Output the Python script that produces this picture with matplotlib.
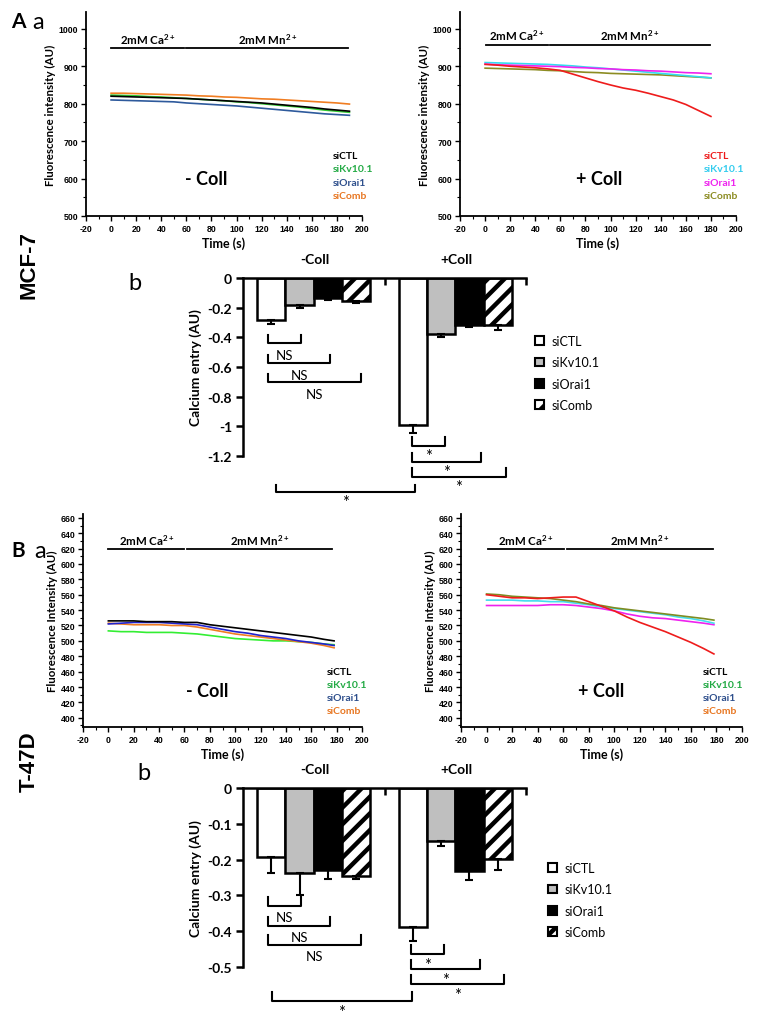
import matplotlib
matplotlib.use("Agg")
import matplotlib.pyplot as plt
from matplotlib.patches import Patch
from matplotlib.ticker import MultipleLocator

plt.rcParams['font.family'] = ['Lato', 'DejaVu Sans']
plt.rcParams['mathtext.fontset'] = 'custom'
plt.rcParams['mathtext.rm'] = 'Lato'
plt.rcParams['mathtext.bf'] = 'Lato:bold'
plt.rcParams['mathtext.it'] = 'Lato:italic'
plt.rcParams['axes.unicode_minus'] = False
plt.rcParams['hatch.linewidth'] = 3.2

# ---- data: fluorescence traces ----
names = ['siCTL', 'siKv10.1', 'siOrai1', 'siComb']

t_mcf_minus = [0, 10, 20, 30, 40, 50, 60, 70, 80, 90, 100, 110, 120, 130, 140, 150, 160, 170, 180, 190]
mcf_minus_ctl = [820, 819, 818, 817, 816, 815, 814, 812, 810, 808, 806, 804, 802, 799, 796, 793, 790, 786, 783, 780]
mcf_minus_kv = [823, 822, 821, 819, 818, 816, 814, 812, 810, 808, 805, 803, 800, 797, 794, 791, 787, 783, 780, 777]
mcf_minus_orai = [810, 809, 808, 807, 806, 805, 802, 800, 798, 796, 794, 791, 788, 785, 782, 779, 776, 773, 771, 769]
mcf_minus_comb = [828, 828, 827, 826, 825, 824, 823, 821, 820, 818, 817, 815, 813, 812, 810, 808, 806, 804, 802, 799]

t_mcf_plus = [0, 10, 20, 30, 40, 50, 60, 70, 80, 90, 100, 110, 120, 130, 140, 150, 160, 170, 180]
mcf_plus_ctl = [905, 903, 900, 898, 896, 893, 889, 879, 869, 859, 850, 842, 836, 828, 819, 810, 798, 782, 766]
mcf_plus_kv = [910, 909, 908, 907, 906, 905, 903, 901, 898, 896, 893, 890, 887, 884, 881, 878, 875, 872, 869]
mcf_plus_orai = [906, 904, 903, 902, 901, 900, 899, 897, 896, 894, 893, 891, 890, 888, 887, 885, 883, 882, 880]
mcf_plus_comb = [895, 894, 893, 892, 891, 889, 888, 886, 884, 883, 881, 880, 879, 878, 877, 875, 873, 871, 869]

t_t47 = [0, 10, 20, 30, 40, 50, 60, 70, 80, 90, 100, 110, 120, 130, 140, 150, 160, 170, 178]
t47_minus_ctl = [526, 526, 526, 525, 525, 525, 524, 524, 521, 519, 517, 515, 513, 511, 509, 507, 505, 502, 500]
t47_minus_kv = [513, 512, 512, 511, 511, 511, 510, 509, 507, 505, 503, 502, 501, 500, 500, 499, 498, 496, 495]
t47_minus_orai = [522, 523, 524, 524, 524, 523, 522, 521, 518, 515, 512, 510, 507, 505, 503, 500, 498, 496, 494]
t47_minus_comb = [523, 522, 521, 521, 521, 520, 520, 518, 515, 512, 509, 507, 505, 503, 501, 499, 497, 494, 491]

t47_plus_ctl = [560, 558, 556, 556, 555, 556, 557, 557, 551, 545, 539, 531, 524, 518, 512, 505, 498, 490, 483]
t47_plus_kv = [553, 553, 553, 552, 552, 551, 551, 549, 547, 544, 542, 540, 538, 536, 534, 531, 529, 526, 523]
t47_plus_orai = [546, 546, 546, 546, 546, 547, 547, 546, 544, 542, 539, 535, 532, 530, 529, 527, 525, 523, 521]
t47_plus_comb = [561, 560, 558, 557, 556, 555, 553, 551, 548, 546, 543, 541, 539, 537, 535, 533, 531, 529, 527]

# ---- data: calcium entry bars ----
mcf_minus_bar = [-0.285, -0.179, -0.137, -0.157]
mcf_minus_err = [0.025, 0.021, 0.013, 0.013]
mcf_plus_bar = [-0.989, -0.375, -0.315, -0.315]
mcf_plus_err = [0.056, 0.025, 0.015, 0.035]

t47_minus_bar = [-0.192, -0.238, -0.228, -0.246]
t47_minus_err = [0.046, 0.062, 0.027, 0.009]
t47_plus_bar = [-0.387, -0.149, -0.231, -0.197]
t47_plus_err = [0.040, 0.012, 0.025, 0.031]

W, H = 761, 1020
fig = plt.figure(figsize=(W / 100, H / 100), dpi=100)


def px_rect(x0, y0, x1, y1):
    return [x0 / W, 1 - y1 / H, (x1 - x0) / W, (y1 - y0) / H]


def line_panel(rect, t, series, colors, ylim, ymajor, yminor, ylabel,
               spans, span_y, leg_x, leg_ys, leg_colors, cond, cond_xy):
    ax = fig.add_axes(rect)
    for ys, c in zip(series, colors):
        ax.plot(t, ys, color=c, lw=1.2)
    ax.set_xlim(-20, 200)
    ax.set_ylim(*ylim)
    ax.xaxis.set_major_locator(MultipleLocator(20))
    ax.xaxis.set_minor_locator(MultipleLocator(10))
    ax.yaxis.set_major_locator(MultipleLocator(ymajor))
    ax.yaxis.set_minor_locator(MultipleLocator(yminor))
    ax.spines['top'].set_visible(False)
    ax.spines['right'].set_visible(False)
    for s in ('left', 'bottom'):
        ax.spines[s].set_linewidth(1.3)
    ax.tick_params(which='major', length=3.5, width=1.0, pad=2)
    ax.tick_params(which='minor', length=2, width=0.8)
    for lab in ax.get_xticklabels() + ax.get_yticklabels():
        lab.set_fontfamily('Liberation Sans')
        lab.set_fontweight('bold')
        lab.set_fontsize(6.3)
    ax.set_xlabel('Time (s)', fontsize=9, fontweight='bold', labelpad=3)
    ax.set_ylabel(ylabel, fontsize=8.3, fontweight='bold', labelpad=2)
    # solution bars
    (c0, c1), (m0, m1) = spans
    ax.plot([c0, c1], [span_y, span_y], color='k', lw=1.3)
    ax.plot([m0, m1], [span_y, span_y], color='k', lw=1.3)
    ax.annotate(r'2mM Ca$^{\mathbf{2+}}$', xy=((c0 + c1) / 2, span_y), xytext=(0, 1.5),
                textcoords='offset points', ha='center', va='bottom', fontsize=8.3, fontweight='bold')
    ax.annotate(r'2mM Mn$^{\mathbf{2+}}$', xy=((m0 + m1) / 2, span_y), xytext=(0, 1.5),
                textcoords='offset points', ha='center', va='bottom', fontsize=8.3, fontweight='bold')
    for n, y, c in zip(names, leg_ys, leg_colors):
        ax.text(leg_x, y, n, color=c, fontsize=7.5, fontweight='bold', va='center')
    ax.text(cond_xy[0], cond_xy[1], cond, fontsize=13, fontweight='bold', ha='center', va='center')
    return ax


def bracket(ax, x0, x1, y, h, label, fs, off):
    ax.plot([x0, x0, x1, x1], [y + h, y, y, y + h], color='k', lw=1.5, clip_on=False)
    ax.annotate(label, xy=((x0 + x1) / 2, y), xytext=(0, off), textcoords='offset points',
                ha='center', va='top', fontsize=fs, annotation_clip=False)


def bar_panel(rect, minus, minus_err, plus, plus_err, ylim, yticks, ylabels, leg_anchor):
    ax = fig.add_axes(rect)
    offs = [-0.3, -0.1, 0.1, 0.3]
    faces = ['white', '#bfbfbf', 'black', 'white']
    hatches = [None, None, None, '//']
    for i in range(4):
        xs = [0 + offs[i], 1 + offs[i]]
        vals = [minus[i], plus[i]]
        errs = [minus_err[i], plus_err[i]]
        ax.bar(xs, vals, width=0.2, color=faces[i], edgecolor='black', linewidth=1.8,
               hatch=hatches[i], zorder=2)
        ax.errorbar(xs, vals, yerr=[errs, [0, 0]], fmt='none', ecolor='black',
                    elinewidth=1.5, capsize=3, capthick=1.5, zorder=3)
    ax.set_xlim(-0.5, 1.5)
    ax.set_ylim(*ylim)
    ax.spines['bottom'].set_visible(False)
    ax.spines['right'].set_visible(False)
    ax.spines['top'].set_linewidth(1.8)
    ax.spines['left'].set_linewidth(1.8)
    ax.xaxis.set_ticks_position('top')
    ax.set_xticks([0.5, 1.5])
    ax.tick_params(axis='x', direction='in', length=5, width=1.8, labeltop=False, labelbottom=False)
    ax.set_yticks(yticks)
    ax.set_yticklabels(ylabels)
    ax.tick_params(axis='y', direction='out', length=5, width=1.8, labelsize=10, pad=3)
    for lab in ax.get_yticklabels():
        lab.set_fontweight('bold')
    ax.set_ylabel('Calcium entry (AU)', fontsize=10, fontweight='bold', labelpad=4)
    for xg, txt in [(0, '-Coll'), (1, '+Coll')]:
        ax.annotate(txt, xy=(xg, 1), xycoords=('data', 'axes fraction'), xytext=(1, 14),
                    textcoords='offset points', ha='center', va='center', fontsize=10,
                    fontweight='bold', annotation_clip=False)
    handles = [Patch(facecolor=faces[i], edgecolor='black', linewidth=1.5, hatch=hatches[i])
               for i in range(4)]
    ax.legend(handles, names, loc='upper left', bbox_to_anchor=leg_anchor,
              bbox_transform=fig.transFigure, frameon=False, fontsize=9,
              handlelength=0.7, handleheight=0.7, handletextpad=0.6,
              labelspacing=0.75, borderpad=0, borderaxespad=0)
    return ax


# ---- MCF-7 ----
line_panel(px_rect(86, 13, 362, 217), t_mcf_minus,
           [mcf_minus_kv, mcf_minus_orai, mcf_minus_comb, mcf_minus_ctl],
           ['#33cc33', '#2e5a9c', '#f07d22', 'black'],
           (500, 1045), 100, 50, 'Fluorescence intensity (AU)',
           ((0, 58), (60, 189)), 948, 177, [662, 626, 590, 554],
           ['black', '#22aa44', '#2e4f8c', '#e87722'], '- Coll', (76, 599))

line_panel(px_rect(460, 13, 736, 217), t_mcf_plus,
           [mcf_plus_comb, mcf_plus_kv, mcf_plus_orai, mcf_plus_ctl],
           ['#8c8c22', '#33ddee', '#ee22ee', '#ee1c1c'],
           (500, 1045), 100, 50, 'Fluorescence intensity (AU)',
           ((1, 50), (52, 179)), 958, 174, [662, 626, 590, 554],
           ['#ee1c1c', '#33ccee', '#ee22ee', '#8c8c22'], '+ Coll', (91, 599))

axA = bar_panel(px_rect(243, 279, 526, 457), mcf_minus_bar, mcf_minus_err,
                mcf_plus_bar, mcf_plus_err, (-1.2, 0),
                [0, -0.2, -0.4, -0.6, -0.8, -1.0, -1.2],
                ['0', '-0.2', '-0.4', '-0.6', '-0.8', '-1', '-1.2'],
                (535 / W, 1 - 336 / H))
for x1, y in [(-0.09, -0.438), (0.115, -0.573), (0.334, -0.701)]:
    bracket(axA, -0.32, x1, y, 0.054, 'NS', 9.5, -4)
for x1, y in [(0.928, -1.133), (1.182, -1.24), (1.359, -1.341)]:
    bracket(axA, 0.694, x1, y, 0.06, '*', 12, -1.5)
bracket(axA, -0.267, 0.716, -1.443, 0.045, '*', 12, -1.5)

# ---- T-47D ----
line_panel(px_rect(83, 515, 362, 728), t_t47,
           [t47_minus_kv, t47_minus_comb, t47_minus_orai, t47_minus_ctl],
           ['#33ee33', '#f07d22', '#2222cc', 'black'],
           (388, 665), 20, 10, 'Fluorescence Intensity (AU)',
           ((0, 60), (62, 176)), 620, 172, [460, 443, 426, 409],
           ['black', '#22aa44', '#2e4f8c', '#e87722'], '- Coll', (78, 435))

line_panel(px_rect(461, 515, 742, 728), t_t47,
           [t47_plus_orai, t47_plus_kv, t47_plus_comb, t47_plus_ctl],
           ['#ee22ee', '#44ddee', '#7f8c22', '#ee1c1c'],
           (388, 665), 20, 10, 'Fluorescence Intensity (AU)',
           ((1, 61), (63, 177)), 620, 169, [460, 443, 426, 409],
           ['black', '#22aa44', '#2e4f8c', '#e87722'], '+ Coll', (90, 435))

axB = bar_panel(px_rect(243, 789, 526, 968), t47_minus_bar, t47_minus_err,
                t47_plus_bar, t47_plus_err, (-0.5, 0),
                [0, -0.1, -0.2, -0.3, -0.4, -0.5],
                ['0', '-0.1', '-0.2', '-0.3', '-0.4', '-0.5'],
                (548 / W, 1 - 863 / H))
for x1, y in [(-0.09, -0.331), (0.115, -0.385), (0.334, -0.438)]:
    bracket(axB, -0.32, x1, y, 0.026, 'NS', 9.5, -3.5)
for x1, y in [(0.92, -0.463), (1.175, -0.506), (1.345, -0.548)]:
    bracket(axB, 0.687, x1, y, 0.025, '*', 12, -2)
bracket(axB, -0.295, 0.694, -0.595, 0.025, '*', 12, -2)

# ---- panel labels ----
def ftext(x, y, s, **kw):
    fig.text(x / W, 1 - y / H, s, **kw)

ftext(11, 28, 'A', fontsize=15, fontweight='bold', va='baseline')
ftext(32, 29, 'a', fontsize=17, va='baseline')
ftext(128, 290, 'b', fontsize=17, va='baseline')
ftext(29, 265, 'MCF-7', fontsize=16, fontweight='bold', rotation=90, ha='center', va='center',
      family='Liberation Sans')
ftext(11, 557, 'B', fontsize=15, fontweight='bold', va='baseline')
ftext(34, 558, 'a', fontsize=17, va='baseline')
ftext(137, 780, 'b', fontsize=17, va='baseline')
ftext(29, 762, 'T-47D', fontsize=16, fontweight='bold', rotation=90, ha='center', va='center',
      family='Liberation Sans')

fig.savefig('out.png', dpi=100)
